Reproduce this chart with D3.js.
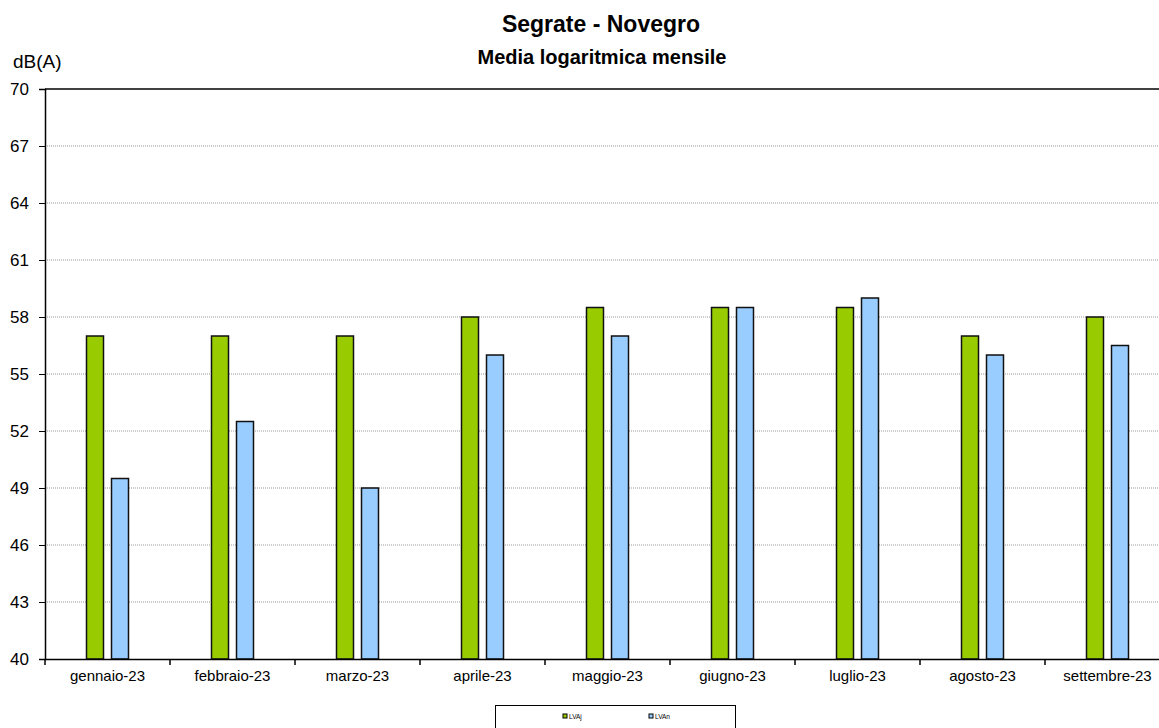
<!DOCTYPE html>
<html>
<head>
<meta charset="utf-8">
<script src="https://d3js.org/d3.v7.min.js"></script>
<style>
  body { margin: 0; background: #fff; }
  svg { display: block; font-family: Arial, "Liberation Sans", sans-serif; }
</style>
</head>
<body>
<svg id="chart" width="1159" height="728"></svg>
<script>
// dati
let months = ["gennaio-23", "febbraio-23", "marzo-23", "aprile-23", "maggio-23",
              "giugno-23", "luglio-23", "agosto-23", "settembre-23"];
let lvaj = [57, 57, 57, 58, 58.5, 58.5, 58.5, 57, 58];
let lvan = [49.5, 52.5, 49, 56, 57, 58.5, 59, 56, 56.5];
let yTicks = [40, 43, 46, 49, 52, 55, 58, 61, 64, 67, 70];
let seriesNames = ["LVAj", "LVAn"];
let seriesColors = ["#99cc00", "#99ccff"];

let svg = d3.select("#chart");
let plotL = 45, plotR = 1170, plotT = 89, plotB = 659;

let x = d3.scaleBand().domain(months).range([plotL, plotR]);
let y = d3.scaleLinear().domain([40, 70]).range([plotB, plotT]);

// griglia
svg.append("g")
  .selectAll("line")
  .data(yTicks.slice(1, -1))
  .join("line")
  .attr("x1", plotL).attr("x2", plotR)
  .attr("y1", d => y(d)).attr("y2", d => y(d))
  .attr("stroke", "#999")
  .attr("stroke-width", 1)
  .attr("stroke-dasharray", "1,1");

// bordo superiore
svg.append("line")
  .attr("x1", plotL).attr("x2", plotR)
  .attr("y1", y(70)).attr("y2", y(70))
  .attr("stroke", "#000").attr("stroke-width", 1.5);

// barre
let barW = 17, gap = 8;
let data = months.map((m, i) => ({ m: m, v: [lvaj[i], lvan[i]] }));
let groups = svg.append("g").selectAll("g")
  .data(data)
  .join("g")
  .attr("transform", d => `translate(${x(d.m) + x.bandwidth() / 2 - barW - gap / 2},0)`);

groups.selectAll("rect")
  .data(d => d.v)
  .join("rect")
  .attr("x", (d, j) => j * (barW + gap))
  .attr("y", d => y(d))
  .attr("width", barW)
  .attr("height", d => y(40) - y(d))
  .attr("fill", (d, j) => seriesColors[j])
  .attr("stroke", "#111")
  .attr("stroke-width", 1.5);

// assi
let yAxis = d3.axisLeft(y).tickValues(yTicks).tickSize(6).tickPadding(10);
let gy = svg.append("g").attr("transform", `translate(${plotL},0)`).call(yAxis);
gy.select(".domain").attr("stroke", "#000").attr("stroke-width", 1.5);
gy.selectAll("text").attr("font-size", 17).attr("fill", "#000");

let xAxis = d3.axisBottom(x).tickSize(0).tickPadding(11);
let gx = svg.append("g").attr("transform", `translate(0,${plotB})`).call(xAxis);
gx.select(".domain").attr("stroke", "#000").attr("stroke-width", 1.5);
gx.selectAll("text").attr("font-size", 15).attr("fill", "#000");

// tacche tra le categorie
svg.append("g").selectAll("line")
  .data(months)
  .join("line")
  .attr("x1", d => x(d)).attr("x2", d => x(d))
  .attr("y1", plotB).attr("y2", plotB + 6)
  .attr("stroke", "#000").attr("stroke-width", 1.5);

// titoli
svg.append("text").attr("x", 601).attr("y", 32)
  .attr("text-anchor", "middle").attr("font-size", 23).attr("font-weight", "bold")
  .text("Segrate - Novegro");
svg.append("text").attr("x", 602).attr("y", 64)
  .attr("text-anchor", "middle").attr("font-size", 20).attr("font-weight", "bold")
  .text("Media logaritmica mensile");
svg.append("text").attr("x", 13).attr("y", 68)
  .attr("font-size", 19)
  .text("dB(A)");

// legenda
svg.append("rect")
  .attr("x", 495.5).attr("y", 705.5).attr("width", 240).attr("height", 30)
  .attr("fill", "#fff").attr("stroke", "#000").attr("stroke-width", 1);

let leg = svg.append("g").selectAll("g")
  .data(seriesNames)
  .join("g")
  .attr("transform", (d, i) => `translate(${563 + i * 86},714)`);
leg.append("rect")
  .attr("width", 4).attr("height", 4)
  .attr("fill", (d, i) => seriesColors[i])
  .attr("stroke", "#000").attr("stroke-width", 1);
leg.append("text")
  .attr("x", 6).attr("y", 4.5)
  .attr("font-size", 6.5)
  .text(d => d);
</script>
</body>
</html>
